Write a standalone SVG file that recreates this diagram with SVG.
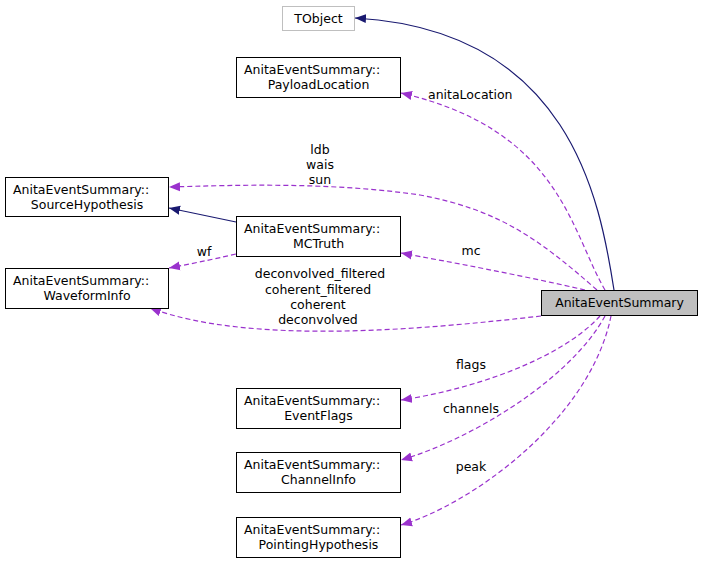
<svg xmlns="http://www.w3.org/2000/svg" width="704" height="565" viewBox="0 0 704 565">
<style>
text{font-family:"DejaVu Sans",sans-serif;font-size:12.5px;fill:#000}
.n{fill:#fff;stroke:#000;stroke-width:1}
.s{fill:none;stroke:#191970;stroke-width:1.2}
.d{fill:none;stroke:#9a32cd;stroke-width:1.2;stroke-dasharray:5,3}
</style>
<defs>
<marker id="an" markerWidth="12" markerHeight="10" refX="11" refY="5" orient="auto" markerUnits="userSpaceOnUse"><path d="M0,0.5 L11,5 L0,9.5z" fill="#191970"/></marker>
<marker id="ap" markerWidth="12" markerHeight="10" refX="11" refY="5" orient="auto" markerUnits="userSpaceOnUse"><path d="M0,0.5 L11,5 L0,9.5z" fill="#9a32cd"/></marker>
</defs>
<g id="edges">
<path class="s" d="M614,290 C600,200 570,30 355,18" marker-end="url(#an)"/>
<path class="d" d="M605,290 C570,230 560,130 401,93" marker-end="url(#ap)"/>
<path class="d" d="M597,290 C540,240 500,210 420,195 C330,182 240,185 169,187" marker-end="url(#ap)"/>
<path class="s" d="M236,222 L169,208" marker-end="url(#an)"/>
<path class="d" d="M585,290 C520,275 450,262 401,253" marker-end="url(#ap)"/>
<path class="d" d="M236,254 C210,260 190,264 169,268" marker-end="url(#ap)"/>
<path class="d" d="M541,316 C420,330 250,345 150,308" marker-end="url(#ap)"/>
<path class="d" d="M600,316 C560,360 470,390 401,400" marker-end="url(#ap)"/>
<path class="d" d="M605,316 C570,380 470,440 401,460" marker-end="url(#ap)"/>
<path class="d" d="M611,316 C590,420 470,505 401,525" marker-end="url(#ap)"/>
<text x="428" y="99">anitaLocation</text>
<text x="320" y="154" text-anchor="middle">ldb</text>
<text x="320" y="169" text-anchor="middle">wais</text>
<text x="320" y="184" text-anchor="middle">sun</text>
<text x="471" y="255" text-anchor="middle">mc</text>
<text x="204" y="256" text-anchor="middle">wf</text>
<text x="320" y="278" text-anchor="middle">deconvolved_filtered</text>
<text x="318" y="294" text-anchor="middle">coherent_filtered</text>
<text x="318" y="309" text-anchor="middle">coherent</text>
<text x="318" y="324" text-anchor="middle">deconvolved</text>
<text x="471" y="369" text-anchor="middle">flags</text>
<text x="471" y="413" text-anchor="middle">channels</text>
<text x="471" y="471" text-anchor="middle">peak</text>
</g>
<g id="TObject"><rect x="282.5" y="6.5" width="72" height="24" fill="#fff" stroke="#bfbfbf"/><text x="318.5" y="23" text-anchor="middle">TObject</text></g>
<g id="PayloadLocation"><rect class="n" x="236.5" y="57.5" width="164" height="40"/><text x="244" y="74">AnitaEventSummary::</text><text x="318.5" y="89" text-anchor="middle">PayloadLocation</text></g>
<g id="SourceHypothesis"><rect class="n" x="5.5" y="177.5" width="163" height="39"/><text x="13" y="194">AnitaEventSummary::</text><text x="87" y="209" text-anchor="middle">SourceHypothesis</text></g>
<g id="MCTruth"><rect class="n" x="236.5" y="216.5" width="164" height="40"/><text x="244" y="233">AnitaEventSummary::</text><text x="318.5" y="248" text-anchor="middle">MCTruth</text></g>
<g id="WaveformInfo"><rect class="n" x="5.5" y="268.5" width="163" height="40"/><text x="13" y="285">AnitaEventSummary::</text><text x="87" y="300" text-anchor="middle">WaveformInfo</text></g>
<g id="AnitaEventSummary"><rect x="541.5" y="290.5" width="156" height="25" fill="#bfbfbf" stroke="#000"/><text x="619.5" y="307" text-anchor="middle">AnitaEventSummary</text></g>
<g id="EventFlags"><rect class="n" x="236.5" y="388.5" width="164" height="40"/><text x="244" y="405">AnitaEventSummary::</text><text x="318.5" y="420" text-anchor="middle">EventFlags</text></g>
<g id="ChannelInfo"><rect class="n" x="236.5" y="452.5" width="164" height="40"/><text x="244" y="469">AnitaEventSummary::</text><text x="318.5" y="484" text-anchor="middle">ChannelInfo</text></g>
<g id="PointingHypothesis"><rect class="n" x="236.5" y="517.5" width="164" height="40"/><text x="244" y="534">AnitaEventSummary::</text><text x="318.5" y="549" text-anchor="middle">PointingHypothesis</text></g>
</svg>
